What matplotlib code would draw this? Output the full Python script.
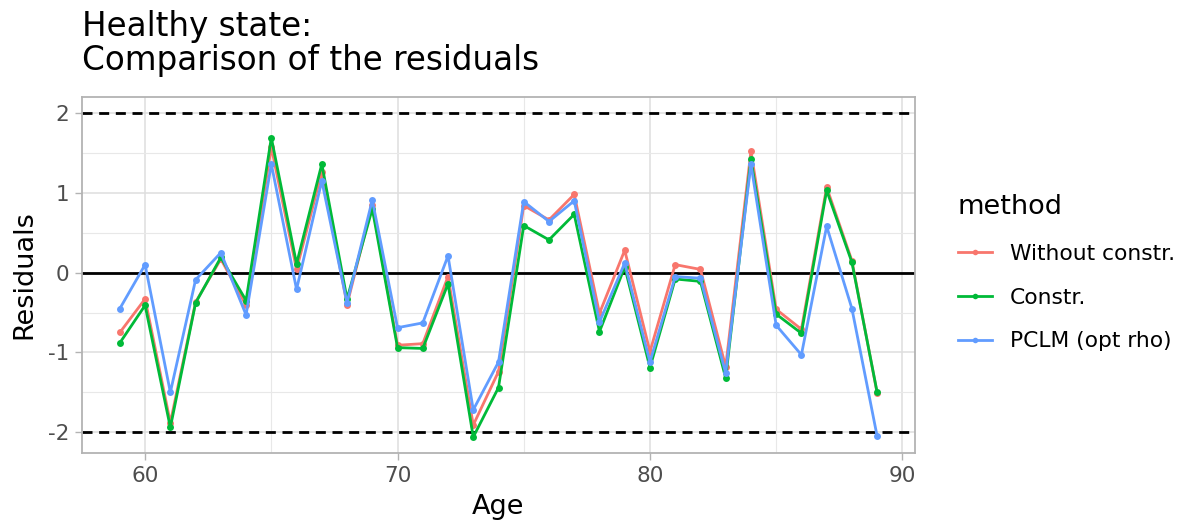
import matplotlib
matplotlib.use("Agg")
import matplotlib.pyplot as plt
from matplotlib.lines import Line2D
from matplotlib.ticker import MultipleLocator

# Residuals by age for three fitting methods
ages = list(range(59, 90))

without_constr = [-0.75, -0.33, -1.88, -0.37, 0.17, -0.41, 1.57, 0.04, 1.26, -0.40,
                  0.85, -0.91, -0.89, -0.05, -1.91, -1.24, 0.84, 0.66, 0.98, -0.51,
                  0.28, -0.99, 0.10, 0.04, -1.18, 1.52, -0.46, -0.71, 1.07, 0.15, -1.51]

constr = [-0.88, -0.41, -1.94, -0.38, 0.19, -0.35, 1.69, 0.11, 1.36, -0.33,
          0.80, -0.94, -0.95, -0.14, -2.06, -1.44, 0.59, 0.41, 0.73, -0.74,
          0.07, -1.19, -0.08, -0.11, -1.32, 1.42, -0.52, -0.76, 1.03, 0.13, -1.50]

pclm_opt_rho = [-0.45, 0.10, -1.50, -0.09, 0.25, -0.53, 1.36, -0.21, 1.15, -0.38,
                0.91, -0.69, -0.63, 0.21, -1.72, -1.12, 0.89, 0.64, 0.90, -0.62,
                0.12, -1.12, -0.05, -0.07, -1.26, 1.36, -0.66, -1.03, 0.58, -0.45, -2.05]

series_labels = ["Without constr.", "Constr.", "PCLM (opt rho)"]
series_colors = ["#F8766D", "#00BA38", "#619CFF"]

W, H = 1184, 522
fig = plt.figure(figsize=(W / 100, H / 100), dpi=100)
ax = fig.add_axes([82 / W, 1 - 453 / H, (915 - 82) / W, (453 - 97) / H])

ax.set_xlim(57.5, 90.5)
ax.set_ylim(-2.26, 2.2)

# grid
ax.xaxis.set_major_locator(MultipleLocator(10))
ax.xaxis.set_minor_locator(MultipleLocator(5))
ax.yaxis.set_major_locator(MultipleLocator(1))
ax.yaxis.set_minor_locator(MultipleLocator(0.5))
ax.grid(which="major", color="#dedede", linewidth=1.1, zorder=0)
ax.grid(which="minor", color="#e8e8e8", linewidth=0.8, zorder=0)
ax.set_axisbelow(True)

# reference lines
dash = (0, (3.6, 2.4))
ax.axhline(2, color="black", linestyle=dash, linewidth=2.0, zorder=2)
ax.axhline(-2, color="black", linestyle=dash, linewidth=2.0, zorder=2)
ax.axhline(0, color="black", linewidth=2.0, zorder=2)

LW, MS = 2.0, 5.0
for vals, col in zip([without_constr, constr, pclm_opt_rho], series_colors):
    ax.plot(ages, vals, color=col, linewidth=LW, marker="o", markersize=MS,
            markeredgewidth=0, zorder=3)

for s in ax.spines.values():
    s.set_color("#b3b3b3")
    s.set_linewidth(1.3)

ax.tick_params(which="major", length=5, width=1.0, color="#b3b3b3",
               labelsize=15.5, labelcolor="#4d4d4d", pad=4)
ax.tick_params(which="minor", length=0)
ax.set_yticks([-2, -1, 0, 1, 2])
ax.set_yticklabels(["-2", "-1", "0", "1", "2"])

ax.set_xlabel("Age", fontsize=19.5, labelpad=6)
ax.set_ylabel("Residuals", fontsize=19.5, labelpad=8)

fig.text(82 / W, 1 - 10 / H, "Healthy state:\nComparison of the residuals",
         fontsize=23.5, ha="left", va="top", linespacing=1.05)

handles = [Line2D([], [], color=c, linewidth=LW, marker="o", markersize=MS * 0.8,
                  markeredgewidth=0) for c in series_colors]
leg = fig.legend(handles, series_labels, title="method", loc="upper left",
                 bbox_to_anchor=(951 / W, 1 - 187 / H), frameon=False,
                 fontsize=15.7, title_fontsize=19.5, handlelength=1.6,
                 handletextpad=0.8, labelspacing=1.1, borderaxespad=0,
                 borderpad=0.3)
leg._legend_box.align = "left"

fig.savefig("out.png", dpi=100)
